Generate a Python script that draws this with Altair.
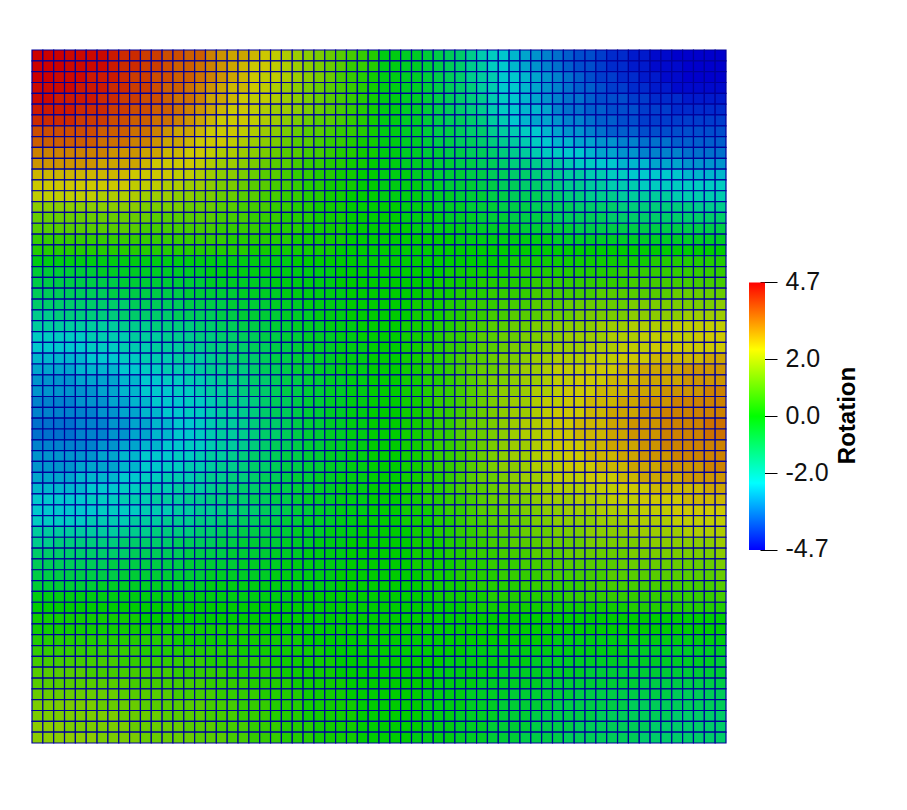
import altair as alt
import pandas as pd

# Cell values, one character per cell (0.2 steps): lower case negative, upper case positive.
NEG = "xwvutsrqponmlkjihgfedcba"
POS = "ABCDEFGHIJKLMNOPQRSTUVWX"
ROWS = [
"XXXWWWWV UUTTSSRR PONNMLKJ IHGFEDCB xxwwvuts qonmlkji hgffeddc cbbaaaaa",
"XXXWWWWV UUTTSRRQ PONMLLKJ IHGFECCB xxwwvuts qpnmlkji hgffeddc cbbbaaaa",
"XXWWWVVV UTTSSRRQ PONMLKKJ IHGFDCBA xxwwvuts qpommlkj ihgfeedd ccbbaaaa",
"WWWWVVVU UTTSRRQP ONMMLKJI HGFEDCBA xxwwvuts rpommlkj ihggfeed dccbbbbb",
"WWVVVVUU TTSSRQQP NNMLKKJI HGFEDCBA xxwwvuts rqonmlkj ihhgfffe edddcccc",
"VVVVUUUT TSSRRQPO NMLLKJII HGFEDCBA xxwwvuts rqonmllk ihhggfff eeeddddd",
"UUUUTTTS SRRQQPON MLLLKJIH GFEEDCBA xxwwvutt srpomlkk jiihggff eeeeeeee",
"SSSSSSRR RQQPONNM LLLKJIHG FEEDCCBA xxwwvuut ssqponml kjjihggg ffffffff",
"RRRRRRQQ QPPONNML LLKJIHGF EEDCCBAA xxwwvuut tsrqponm llkkjjii hhhggggg",
"PPPPPPPO OONNMMLL KJJIHGFE EDDCBBAA xxwwvvuu ttsrqpon nmmlkkjj iiiihhhh",
"OOOOOONN NNMLLLLK JIIHGFEE DCCBBAA0 xxwwwvvu uttsrrqp ponnmmll lkkkjjjj",
"MMMMMMMM MLLLLKKJ IHHGFEED CCBBAA00 xxxwwvvv uuttssrq qppoonnm mmmmllll",
"LLLLLLLL LKKKJJII HGGFEEDD CBBAAA00 xxxxwwvv vuuttssr rqqppooo nnnnnnnn",
"KKKKKKJJ JJIIIHHG GFFEEDDC CBBAA000 xxxxwwwv vvuuttts srrqqqpp pppooooo",
"HHHHHHHH HHGGGGFF FEEDDDCC BBAAA000 00xxxwww vvvuuutt ttssssrr rrrrrqqq",
"FFFFFFFF FFFEEEEE EDDDCCCB BBAAA000 00xxxxww wvvvuuuu tttttsss ssssssss",
"EEEEEEEE EEDDDDDD DCCCCBBB BAAAA000 000xxxxx wwwwwvvv vvuuuuuu uuuuuuuu",
"CCCCCCCC CCCCCCCC CCBBBBBB AAAAA000 0000000x xxxxxxxx wwwwwwww wwwwwwww",
"BBBBBBBB BBBBBBBB BBBBAAAA AAAA0000 00000000 00000000 00000000 00000000",
"xxxxxxxx xxxxxxxx xxxxxxxx 00000000 00000000 0000AAAA AAAAAAAA ABBBBBBB",
"vvvvvvww wwwwwwww xxxxxxxx xxxx0000 000000AA AAAABBBB BBBBBBCC CCCCCCCC",
"uuuuuuuu vvvvvvvv wwwwwwxx xxxx0000 00000AAA ABBBBBCC CCCCCCCD DDDDDDDD",
"tttttttu uuuuuuvv vvvwwwwx xxxxx000 0000AAAB BBCCCCDD DDDDEEEE EEEFFFFF",
"ssssssss stttttuu uuvvvvww wxxxx000 000AAABB CCCDDDEE EFFFFFFG GGGGGGGH",
"qqrrrrrr sssssttt tuuvvvvw wwxxx000 000AAABB CCDDEEEF FFGGGGGH HHHHIIII",
"pppppppp qqqrrrrs sttuuuvv wwwxxx00 00AAABBC DDEEFFGG HHHHIIIJ JJJKKKKK",
"nnnnnooo opppqqqr rssttuuv vwwwxx00 00AAABCC DEEFFGGH HIIIIJJJ KKKKKLLL",
"mmmmmnnn ooopppqq rrssttuu vwwwxxx0 00AABBCC DEEFGGHH IIIJJJKK KLLLLLLL",
"lllllmmm nnoooppp qrrsstuu vvwwxxx0 00AABBCD EEFGGHII JJJKKKLL LMMMMMNN",
"kkkkllll mmnnooop qqrrsttu vvwwxxx0 00AABBCD EFFGHIIJ KKKLLLMM NNNNOOOO",
"jjjjkkkk llmmnnoo pqqrsstu uvvwwxx0 00AABBCD EFGGHIIJ KKLLLMMM NNNNOOOO",
"jjjjjjkk llmmmnno ppqrsstu uvvwwxx0 00AABCCD EFGHHIJJ KLLLMMMN NNOOOOPP",
"iiiijjjk kllmmmnn opqqrstt uvvwwxx0 00AABCCD EFGHIIJK KLLMMMNN OOOPPPPP",
"iiiiiijj kkllmmnn oppqrstt uvvwwxx0 00AABCCD EFGHIIJK LLLMMNNN OOPPPPPP",
"hhhhiiij jkkllmmn oppqrsst uvvwwxx0 00AABCCE FFGHIJJK LLMMMNNO OOPPPPQQ",
"hhhhiiij jkkllmmn oppqrsst uvvwwxx0 00AABCCE FFGHIJJK LLMMMNNO OOPPPPQQ",
"iiiiiijj kkllmmnn oppqrstt uvvwwxx0 00AABCCD EFGHIIJK LLLMMNNN OOPPPPPP",
"jjjjjjkk llmmmnno ppqrsstu uvvwwxx0 00AABCCD EFGHIIJK KLLMMMNN OOOPPPPP",
"jjjjkkkk llmmnnoo pqqrsstu uvvwwxx0 00AABCCD EFGHHIJJ KLLLMMMN NNOOOOPP",
"kkkkllll mmnnooop qqrrsttu vvwwxxx0 00AABBCD EFFGHIIJ KKKLLLMM NNNNOOOO",
"lllllmmm nnoooppp qrrsstuu vvwwxxx0 00AABBCD EEFGGHII JJJKKKLL LMMMMMNN",
"mmmmmnnn ooopppqq rrssttuu vwwwxxx0 00AABBCC DEFFGGHI IIJJJKKK LLLLMMMM",
"mmmmmmnn nnoooppq qrrssttu vvwwxxx0 00AAABCC DEEFFGGH HIIIJJJJ KKKLLLLL",
"nnnnnooo opppqqqr rssttuuv vwwwxx00 00AAABBC DDEEFFGG HHHHIIIJ JJJKKKKK",
"pppppppp qqqrrrrs sttuuuvv wwwxxx00 000AABBC CDDEEFFF GGGHHHHI IIIIJJJJ",
"qqrrrrrr sssssttt tuuvvvvw wwxxx000 000AAABB CCDDEEEF FFFGGGGG HHHHHHHI",
"ssssssss stttttuu uuvvvvww wxxxx000 000AAABB CCCDDDEE EFFFFFFG GGGGGGGH",
"tttttttu uuuuuuvv vvvwwwwx xxxxx000 000AAAAB BBCCCDDD EEEEEEFF FFFFFFFG",
"uuuuuuuu vvvvvvvv wwwwwwxx xxxx0000 0000AAAB BBBCCCCD DDDDDEEE EEEEEEEF",
"vvvvvvww wwwwwwww xxxxxxxx xxxx0000 0000AAAA BBBBBCCC CCCDDDDD DDDDDDDE",
"xxxxxxxx xxxxxxxx xxxxxxxx 00000000 00000AAA AABBBBBB BCCCCCCC CCCCCCCD",
"00000000 00000000 00000000 00000000 00000000 AAAAAAAA AAAAAAAB BBBBBBBB",
"AAAAAAAA AA000000 00000000 00000000 00000000 00000000 00000000 00000000",
"AAAAAAAA AAAAAAAA AAAAA000 00000000 00000000 00000000 00000000 00000000",
"BBBBBBBB BBBBBAAA AAAAAAAA A0000000 00000000 00000000 xxxxxxxx xxxxxxxx",
"CCCCCCCC CCBBBBBB BBBAAAAA AAA00000 00000000 xxxxxxxx xxxxxxxw wwwwwwww",
"DDDDDDDD CCCCCCCC BBBBBBAA AAAA0000 000000xx xxxxxxww wwwwwwww wwwwwwwv",
"EEEEEDDD DDDDDCCC CCBBBBBA AAAA0000 00000xxx xxxwwwww wwwvvvvv vvvvvvvv",
"EEEEEEEE EDDDDDDD CCCCBBBB AAAAA000 00000xxx xwwwwwwv vvvvvvvv uuuuuuuu",
"FFFFFFFF EEEEEDDD DCCCCBBB BAAAA000 0000xxxx wwwwvvvv vvuuuuuu uuuttttt",
"GGGGGGFF FFEEEEEE DDDCCCBB BAAAAA00 0000xxxx wwwvvvvv uuuuuuut tttttttt",
"GGGGGGGG FFFFEEEE DDDCCCBB BAAAAA00 0000xxxw wwwvvvuu uuuutttt tttsssss",
"HHHGGGGG GFFFFFEE EDDDCCCB BBAAAA00 0000xxxw wwvvvvuu uutttttt tsssssss",
"HHHHHHGG GGFFFFFE EEDDCCCB BBAAAA00 000xxxxw wwvvvuuu uttttttt ssssssss",
]
COLOR_DOMAIN = [-4.7, -2.35, 0.0, 2.35, 4.7]
CELL_COLORS = ["#0000cc", "#00cccc", "#00cc00", "#cccc00", "#cc0000"]
BAR_COLORS = ["#0000ff", "#00ffff", "#00ff00", "#ffff00", "#ff0000"]
TICKS = [4.7, 2.0, 0.0, -2.0, -4.7]
GRID_N = 64


def decode(ch):
    if ch == "0":
        return 0.0
    if ch in POS:
        return (POS.index(ch) + 1) * 0.2
    return -(NEG.index(ch) + 1) * 0.2


records = []
for r, row in enumerate(ROWS):
    cells = row.replace(" ", "")
    assert len(cells) == GRID_N, (r, len(cells))
    for c, ch in enumerate(cells):
        records.append({"x0": c, "x1": c + 1, "y0": r, "y1": r + 1, "v": decode(ch)})
cells_df = pd.DataFrame(records)

grid = (
    alt.Chart(cells_df)
    .mark_rect(stroke="#00009a", strokeWidth=1.2)
    .encode(
        x=alt.X("x0:Q", axis=None, scale=alt.Scale(domain=[0, GRID_N], nice=False, zero=False)),
        x2="x1:Q",
        y=alt.Y("y0:Q", axis=None, scale=alt.Scale(domain=[GRID_N, 0], nice=False, zero=False)),
        y2="y1:Q",
        color=alt.Color(
            "v:Q",
            legend=None,
            scale=alt.Scale(domain=COLOR_DOMAIN, range=CELL_COLORS, interpolate="rgb", clamp=True),
        ),
    )
    .properties(width=694, height=693)
)

bar_df = pd.DataFrame({"x0": [0], "x1": [1], "lo": [TICKS[-1]], "hi": [TICKS[0]]})
stops = [
    alt.GradientStop(color=col, offset=i / (len(BAR_COLORS) - 1))
    for i, col in enumerate(BAR_COLORS)
]
bar = (
    alt.Chart(bar_df)
    .mark_rect(
        color=alt.LinearGradient(gradient="linear", stops=stops, x1=0, x2=0, y1=1, y2=0)
    )
    .encode(
        x=alt.X("x0:Q", axis=None, scale=alt.Scale(domain=[0, 1], nice=False, zero=False)),
        x2="x1:Q",
        y=alt.Y(
            "lo:Q",
            scale=alt.Scale(domain=[-11.485, 12.87], nice=False, zero=False),
            axis=alt.Axis(
                orient="right",
                values=TICKS,
                title="Rotation",
                titleFont="Liberation Sans",
                titleFontSize=24,
                titleFontWeight="bold",
                titleColor="#000000",
                titleAngle=270,
                titlePadding=31,
                titleY=365,
                labelFont="Liberation Sans",
                labelFontSize=25,
                labelColor="#111111",
                labelPadding=8,
                labelOffset=-1,
                labelOverlap=False,
                labelExpr="replace(format(datum.value,'.1f'),'\u2212','-')",
                tickSize=17,
                tickColor="#000000",
                tickWidth=1,
                offset=-5,
                domain=False,
                grid=False,
            ),
        ),
        y2="hi:Q",
    )
    .properties(width=16, height=693)
)

chart = (
    alt.hconcat(grid, bar, spacing=22)
    .properties(padding={"left": 23, "top": 41, "right": 0, "bottom": 0}, background="#ffffff")
    .configure_view(stroke=None)
)

chart.save("out.html", embed_options={"renderer": "svg", "actions": False})
